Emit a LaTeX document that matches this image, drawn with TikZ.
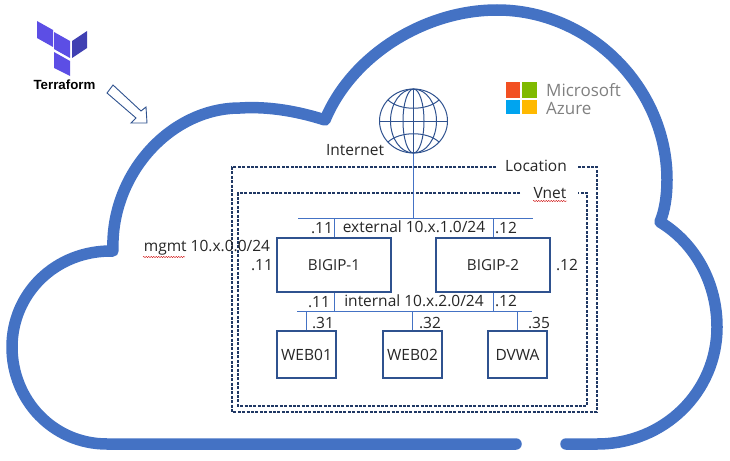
\documentclass[tikz,border=0pt]{standalone}
\usepackage{fontspec}
\setmainfont{Open Sans}
\newfontfamily\logofont{Liberation Sans}
\newfontfamily\azurefont{Open Sans}
\usetikzlibrary{decorations.pathmorphing,shapes.geometric}
\definecolor{cloudblue}{HTML}{4472C4}
\definecolor{boxblue}{HTML}{2F528F}
\definecolor{dashblue}{HTML}{203864}
\definecolor{txtgray}{HTML}{262626}
\definecolor{terralight}{HTML}{5C4EE5}
\definecolor{terradark}{HTML}{4040B2}
\definecolor{msred}{HTML}{F25022}
\definecolor{msgreen}{HTML}{7FBA00}
\definecolor{msblue}{HTML}{00A4EF}
\definecolor{msyellow}{HTML}{FFB900}
\tikzset{
	addr/.style={font=\fontsize{15.5}{17}\selectfont,text=txtgray,inner sep=0pt},
	bigbox/.style={draw=boxblue,line width=1.4pt,minimum width=114pt,minimum height=54pt,inner sep=0pt,font=\fontsize{15.2}{17}\selectfont,text=txtgray},
	webbox/.style={draw=boxblue,line width=1.4pt,minimum width=59pt,minimum height=47pt,inner sep=0pt,font=\fontsize{15.5}{17}\selectfont,text=txtgray},
	wire/.style={cloudblue,line width=0.8pt},
	zone/.style={dashblue,line width=1.1pt,dash pattern=on 3pt off 1.4pt},
	spell/.style={red!80!black,line width=0.4pt,decorate,decoration={snake,amplitude=0.6pt,segment length=2.5pt}},
	globeline/.style={boxblue,line width=1pt},
	azuretext/.style={inner sep=0pt,anchor=west,text=gray,font=\azurefont\fontsize{17}{19}\selectfont}
}
\begin{document}
\begin{tikzpicture}[x=1pt,y=-1pt]
	\useasboundingbox (0,0) rectangle (730,460);
	
	%cloud
	\draw[cloudblue,line width=11.5pt,line cap=round,line join=round]
		(516,444)--(107,444)
		.. controls (53,444) and (12,400) .. (12,347)
		.. controls (12,294) and (55,250) .. (113,251)
		.. controls (110,175) and (170,108) .. (240,108)
		.. controls (270,106) and (300,112) .. (325,120)
		.. controls (352,55) and (425,10) .. (497,10)
		.. controls (590,10) and (667,88) .. (667,180)
		.. controls (667,195) and (665,210) .. (660,222)
		.. controls (695,243) and (717,283) .. (717,327)
		.. controls (717,392) and (664,444) .. (597,444)
		--(566,444);
	
	%terraform
	\fill[terralight] (37,21)--(53,30)--(53,47)--(37,38)--cycle;
	\fill[terralight] (54,32)--(70,41)--(70,58)--(54,49)--cycle;
	\fill[terradark]  (72,41)--(87,31)--(87,48)--(72,58)--cycle;
	\fill[terralight] (54,52)--(70,61)--(70,76)--(54,68)--cycle;
	\node[inner sep=0pt,font=\logofont\bfseries\fontsize{13.3}{15}\selectfont] (terraform) at (64.5,85) {Terraform};
	\draw[boxblue,line width=0.9pt,fill=white] (113,85)--(141,111)--(146,107)--(147,123)--(131,123)--(136,118)--(107,93)--cycle;
	
	%azure
	\fill[msred]    (506,82)  rectangle (520,98);
	\fill[msgreen]  (522,82)  rectangle (537,98);
	\fill[msblue]   (506,100) rectangle (520,114);
	\fill[msyellow] (522,100) rectangle (537,114);
	\node[azuretext] (microsoft) at (546,90)  {Microsoft};
	\node[azuretext] (azure)     at (546,108) {Azure};
	
	%location and vnet, open at their labels
	\draw[zone] (496,167)--(232,167)--(232,412)--(597,412)--(597,167)--(578,167);
	\draw[zone] (520,193)--(238,193)--(238,406)--(587,406)--(587,193)--(578,193);
	\node[addr] (location) at (536,166) {Location};
	\node[addr] (vnet) at (550,193) {Vnet};
	\draw[spell] (533,201)--(567,201);
	
	%globe
	\node[globeline,draw,ellipse,minimum width=68pt,minimum height=64pt,inner sep=0pt] (globe) at (413.5,121) {};
	\draw[globeline] (globe.center) ellipse (10.5 and 32);
	\draw[globeline] (globe.center) ellipse (23 and 32);
	\draw[globeline] (globe.north)--(globe.south);
	\draw[globeline] (globe.west)--(globe.east);
	\draw[globeline] (388,100) .. controls (400,111) and (427,111) .. (439,100);
	\draw[globeline] (388,142) .. controls (400,131) and (427,131) .. (439,142);
	\node[addr] (internet) at (355,150) {Internet};
	
	%buses
	\coordinate (extleft)  at (298,218);
	\coordinate (extright) at (533,218);
	\coordinate (intleft)  at (297,311);
	\coordinate (intright) at (532,311);
	\draw[wire] (extleft)--(extright);
	\draw[wire] (intleft)--(intright);
	\draw[wire] (globe.south)--(globe.south|-extleft);
	
	%boxes
	\node[bigbox] (bigip1) at (334,265) {BIGIP-1};
	\node[bigbox] (bigip2) at (493,265) {BIGIP-2};
	\node[webbox] (web01) at (306.5,354.5) {WEB01};
	\node[webbox] (web02) at (412.5,354.5) {WEB02};
	\node[webbox] (dvwa)  at (517.5,354.5) {DVWA};
	
	%stubs
	\draw[wire] (bigip1.north)--(bigip1.north|-extleft);
	\draw[wire] (bigip2.north)--(bigip2.north|-extleft);
	\draw[wire] (bigip1.south)--(bigip1.south|-intleft);
	\draw[wire] (bigip2.south)--(bigip2.south|-intleft);
	\draw[wire] (web01.north)--(web01.north|-intleft);
	\draw[wire] (web02.north)--(web02.north|-intleft);
	\draw[wire] (dvwa.north)--(dvwa.north|-intleft);
	
	%labels
	\node[addr] (extaddr) at (414,227) {external 10.x.1.0/24};
	\node[addr] (intaddr) at (414,301) {internal 10.x.2.0/24};
	\node[addr] (mgmt) at (207,248) {mgmt 10.x.0.0/24};
	\draw[spell] (143,257)--(185,257);
	%
	\node[addr] (exta) at (322,228) {.11};
	\node[addr] (extb) at (506,228) {.12};
	\node[addr] (mgmta) at (262,265) {.11};
	\node[addr] (mgmtb) at (567,265) {.12};
	\node[addr] (inta) at (319,302) {.11};
	\node[addr] (intb) at (506,301) {.12};
	\node[addr] (weba) at (323,323) {.31};
	\node[addr] (webb) at (430,323) {.32};
	\node[addr] (webc) at (539,323) {.35};
\end{tikzpicture}
\end{document}
